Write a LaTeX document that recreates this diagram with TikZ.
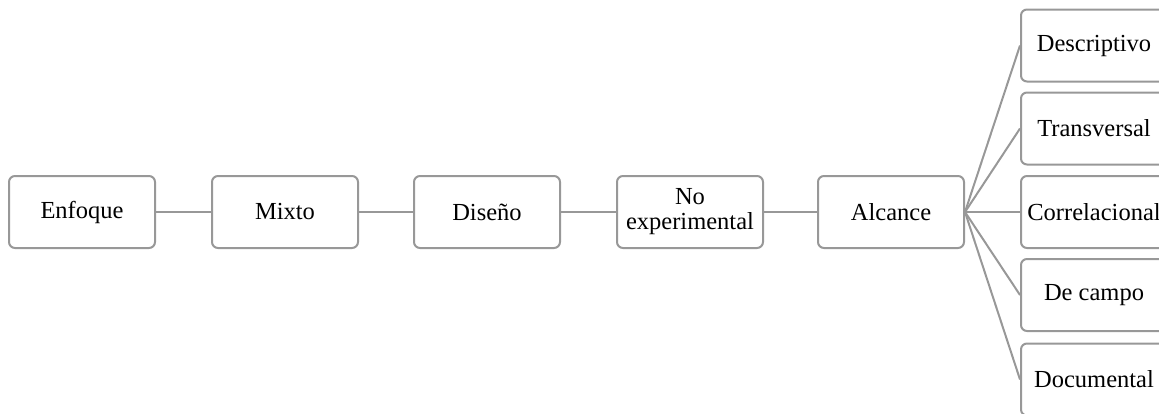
\documentclass[tikz,border=0pt]{standalone}
\usepackage{fontspec}
\setmainfont{Liberation Serif}
\definecolor{lineGray}{RGB}{152,152,152}
\tikzset{
  box/.style={draw=lineGray, line width=2pt, rounded corners=6pt, fill=white,
    minimum width=146pt, minimum height=72pt, inner sep=0pt, align=center,
    font=\fontsize{24.5}{25}\selectfont},
  link/.style={draw=lineGray, line width=2pt}
}
\begin{document}
\begin{tikzpicture}[x=1pt,y=-1pt]
\useasboundingbox (0,0) rectangle (1159,413);
\clip (0,0) rectangle (1159,413);
% main chain
\node[box] (enf) at (82,212) {Enfoque};
\node[box] (mix) at (285,212) {Mixto};
\node[box] (dis) at (487,212) {Diseño};
\node[box] (noe) at (690,212) {No\\experimental};
\node[box] (alc) at (891,212) {Alcance};
% branches of Alcance
\node[box] (des) at (1094,45.5) {Descriptivo};
\node[box] (tra) at (1094,128.5) {Transversal};
\node[box] (cor) at (1094,212) {Correlacional};
\node[box] (cam) at (1094,295) {De campo};
\node[box] (doc) at (1094,379.5) {Documental};
% connectors
\draw[link] (enf.east) -- (mix.west);
\draw[link] (mix.east) -- (dis.west);
\draw[link] (dis.east) -- (noe.west);
\draw[link] (noe.east) -- (alc.west);
\foreach \t in {des,tra,cor,cam,doc}
  \draw[link] (alc.east) -- (\t.west);
\end{tikzpicture}
\end{document}
